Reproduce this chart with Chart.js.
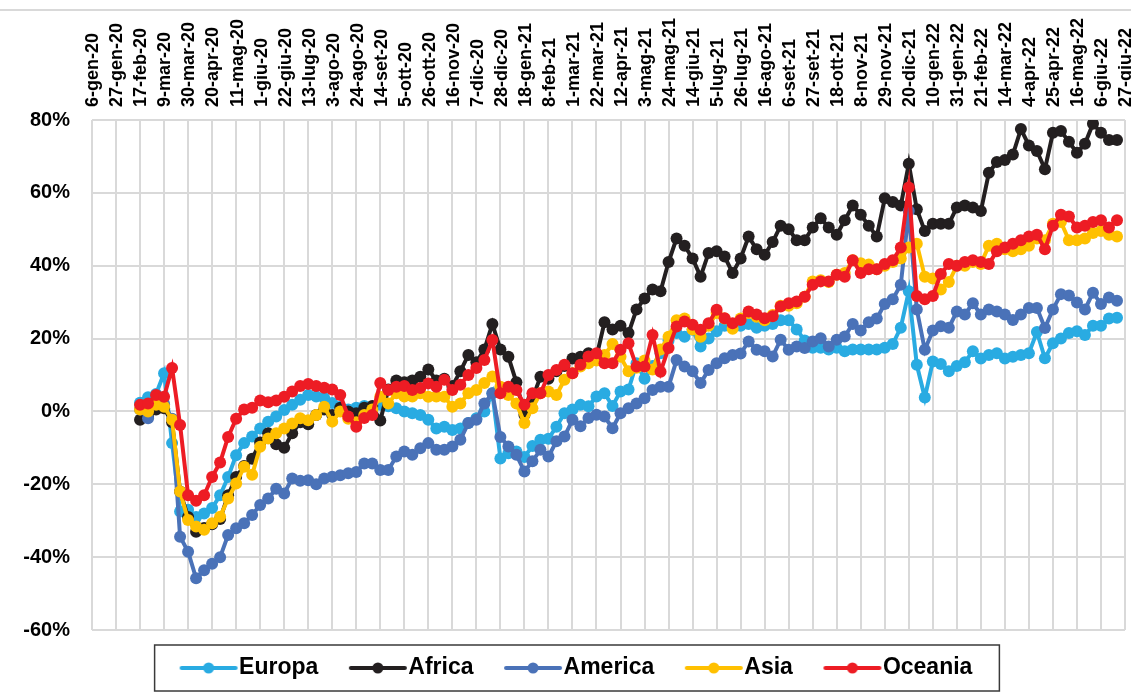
<!DOCTYPE html>
<html><head><meta charset="utf-8">
<script src="https://cdn.jsdelivr.net/npm/chart.js@4.4.0/dist/chart.umd.min.js"></script>
<style>html,body{margin:0;padding:0;background:#fff;}#wrap{width:1131px;height:698px;position:relative;}</style>
</head><body><div id="wrap"><canvas id="c" width="1131" height="698"></canvas></div>
<script>
// Tick labels (every 3 weeks) and weekly categories
const tickLabels = ['6-gen-20','27-gen-20','17-feb-20','9-mar-20','30-mar-20','20-apr-20','11-mag-20','1-giu-20','22-giu-20','13-lug-20','3-ago-20','24-ago-20','14-set-20','5-ott-20','26-ott-20','16-nov-20','7-dic-20','28-dic-20','18-gen-21','8-feb-21','1-mar-21','22-mar-21','12-apr-21','3-mag-21','24-mag-21','14-giu-21','5-lug-21','26-lug-21','16-ago-21','6-set-21','27-set-21','18-ott-21','8-nov-21','29-nov-21','20-dic-21','10-gen-22','31-gen-22','21-feb-22','14-mar-22','4-apr-22','25-apr-22','16-mag-22','6-giu-22','27-giu-22'];
const weeksPerTick = 3;
const totalWeeks = 130;
const firstDataWeek = 6; // 17-feb-20

const seriesNames = ['Europa','Africa','America','Asia','Oceania'];
const seriesColors = ['#29ABE2','#231F20','#4A72B8','#FFC000','#ED1C24'];

const europa = [2.4,3.9,4.8,10.5,-8.7,-27.5,-27,-29,-28,-26.5,
-23,-18,-12,-8.7,-6.9,-4.7,-2.8,-1.4,0.4,1.8,
3.2,4.5,4.1,3.7,2.3,1.3,0.5,1,1.5,1,
1.8,1.4,0.9,0,-0.5,-1,-2.3,-4.7,-4.2,-5.1,
-4.7,-3.2,-1.9,0,5,-12.9,-11.5,-11,-12.5,-9.5,
-7.8,-7.5,-4.2,-0.5,0.5,1.8,1.4,4.1,5,1.5,
5.5,6,13.2,9,12.5,16,19.5,21.5,20.5,22.4,
17.8,20,22,23.5,24,23.5,24,23,23.5,24,
25,25,22.5,19.5,17.5,17.5,17,17.5,16.5,17,
17,17,17,17.5,18.5,23,33,12.8,3.8,13.7,
13,11,12.5,13.5,16.5,14.5,15.5,16,14.5,15,
15.5,16,21.8,14.6,18.7,20,21.5,22,21,23.5,
23.5,25.5,25.7];
const africa = [-2.3,-1.5,0.5,0.9,-3,-22,-29,-33,-32,-31,
-29.5,-23,-18,-15,-13,-8.5,-6,-9,-10,-6,
-3,-3.5,-1,0.5,-1,1,0,-0.5,1,1.5,
-2.5,6,8.5,8,8.5,9.5,11.5,8.5,9,7,
11,15.5,13.5,17,24,17,15,8,-1,3.5,
9.5,9,11,12.5,14.5,15,16,15,24.5,22.5,
23.5,21.5,28,31,33.5,33,41,47.5,45.5,42,
37,43.5,44,42.5,38,42,48,44.5,43,46.5,
51,50,47,47,50.5,53,50.5,48.5,52.5,56.5,
54,51,48,58.5,57.5,56.5,68,55.5,49.5,51.5,
51.5,51.5,56,56.5,56,55,65.5,68.5,69,70.5,
77.5,73,71.5,66.5,76.5,77,74,71,73.5,79,
76.5,74.5,74.5];
const america = [0.5,-1.9,3,2,-2,-34.4,-38.5,-45.8,-43.6,-41.8,
-40,-33.9,-32.1,-30.7,-28.4,-25.7,-23.9,-21.2,-22.5,-18.4,
-19,-18.9,-20,-18.4,-17.9,-17.5,-17,-16.6,-14.3,-14.3,
-16.1,-16.1,-12.4,-11,-11.9,-10.1,-8.7,-10.5,-10.5,-9.6,
-7.8,-3.2,-2.3,2.2,5,-7,-9.6,-11.9,-16.5,-13.7,
-10.5,-12.4,-8.2,-6.9,-2.3,-4.1,-1.8,-0.9,-1.4,-4.6,
-0.5,0.9,2.2,3.6,5.9,6.8,6.8,14.1,12.3,11,
7.8,11.4,13.2,14.6,15.5,15.9,19.2,16.9,16.5,15.1,
19.7,16.9,17.8,17.4,19.2,20.1,17.8,19.7,20.6,24,
22.2,24.5,25.5,29.5,30.8,34.8,55,28,16.9,22.2,
23.4,23,27.4,26.6,29.7,26.6,28,27.4,26.6,25.1,
26.6,28.4,28.4,22.9,28,32.2,31.8,29.9,28,32.6,
29.5,31.3,30.4];
const asia = [0.5,0,1.8,1.3,-2.3,-22,-29.8,-31.6,-32.5,-30.7,
-28.9,-23.9,-19.8,-15.2,-17.4,-9.7,-7.4,-6,-4.7,-3.3,
-1.9,-2.4,-1,1.3,-2.8,0,-2,-3,-1,0.5,
4,2.2,5,4.1,4.1,5,4,4.1,4,1.3,
2.2,5,5.9,7.8,9.6,6.8,4.5,2.2,-3.2,0.9,
5,5.5,4.5,8.7,10.5,12.3,13.2,14,15.5,18.5,
15,11,12,14,11.5,17,20.5,25,25.5,22.5,
20.5,23.5,27,25.5,22.7,25.5,27,26,25,26.5,
29,29,29.7,31.5,35.7,36,35.5,37.5,38,41.5,
40.7,40.3,39,40,41,42,45,46,37,36.5,
33.5,35.5,40,40,41,40.5,45.5,46,44.5,44,
44.5,45.5,47.5,47,51.5,52,47,47,47.5,49,
49.5,48.5,48];
const oceania = [1.8,2.2,4.5,4,11.9,-3.7,-23,-24.5,-23,-18,
-14,-7,-2,0.5,1,3,2.5,3,4,5.5,
7,7.5,7,6.5,6,4.5,-1.4,-4.2,-1.8,-1,
7.8,5.9,6.8,7,5.9,6.4,7.7,6.8,8.7,5.9,
7.3,10,11.9,14.1,19.6,5,6.8,5.9,1.8,5,
5,10,11.4,12.8,10.5,12.8,15.1,16,13.2,13.2,
16.9,18.7,12.3,12.3,21,10.9,17.4,23.3,24.7,23.8,
22.4,24.2,27.9,25.6,24.2,25.1,27.4,26.6,25.6,26.1,
28.8,29.7,30.2,31.5,34.8,35.7,35.7,37.5,37,41.5,
38,39,39,40.5,41.5,45,61.5,31.7,30.8,31.7,
37.7,40.5,40,41,41.5,41,40.5,44,45,46,
47,48,48.5,44.5,51,54,53.5,50.5,51,52,
52.5,50.5,52.5];
const yTicks = {min: -60, max: 80, step: 20};

const seriesValues = [europa, africa, america, asia, oceania];
const categories = [];
for (let w = 0; w < totalWeeks; w++) categories.push(w % weeksPerTick === 0 ? tickLabels[w / weeksPerTick] : '');
function pad(vals){
  const out = new Array(totalWeeks).fill(null);
  vals.forEach((v,k)=>{ out[firstDataWeek + k] = v; });
  return out;
}
function marker(color){
  const c = document.createElement('canvas');
  c.width = 60; c.height = 14;
  const g = c.getContext('2d');
  g.strokeStyle = color; g.lineWidth = 4; g.lineCap = 'round';
  g.beginPath(); g.moveTo(3,7); g.lineTo(57,7); g.stroke();
  g.fillStyle = color; g.beginPath(); g.arc(30,7,5.5,0,Math.PI*2); g.fill();
  return c;
}
const datasets = seriesNames.map((n,i)=>({
  label: n,
  data: pad(seriesValues[i]),
  borderColor: seriesColors[i],
  backgroundColor: seriesColors[i],
  borderWidth: 4,
  pointRadius: 6,
  pointBorderWidth: 0,
  pointBackgroundColor: seriesColors[i],
  pointHoverRadius: 6,
  tension: 0,
  order: seriesNames.length - i
}));

const frame = {
  id: 'frame',
  afterLayout(chart){
    const lg = chart.legend;
    if (lg) { lg.top -= 14; lg.bottom -= 14; lg.left += 8; lg.right += 8; }
  },
  beforeDraw(chart){
    const ctx = chart.ctx;
    ctx.save();
    ctx.strokeStyle = '#d9d9d9'; ctx.lineWidth = 2;
    ctx.beginPath(); ctx.moveTo(0,10); ctx.lineTo(chart.width,10); ctx.stroke();
    ctx.restore();
  },
  afterDraw(chart){
    const lg = chart.legend; const hb = lg.legendHitBoxes;
    if (!hb || !hb.length) return;
    const last = hb[hb.length-1];
    const x0 = hb[0].left - 35, x1 = last.left + last.width + 27;
    const cy = hb[0].top + hb[0].height/2;
    const ctx = chart.ctx;
    ctx.save(); ctx.strokeStyle = '#3a3a3a'; ctx.lineWidth = 1.5;
    ctx.strokeRect(x0, cy - 23, x1 - x0, 46);
    ctx.restore();
  }
};

new Chart(document.getElementById('c'), {
  type: 'line',
  data: {labels: categories, datasets},
  plugins: [frame],
  options: {
    responsive: false, animation: false, devicePixelRatio: 1,
    layout: {padding: {left: 20, right: 5, top: 0, bottom: -5.5}},
    plugins: {
      tooltip: {enabled: false},
      legend: {
        position: 'bottom',
        labels: {
          usePointStyle: true, pointStyleWidth: 38, padding: 40.5, color: '#000',
          font: {family: "'Liberation Sans',Arial,sans-serif", size: 23, weight: 'bold'},
          generateLabels(chart){
            return chart.data.datasets.map((ds,i)=>({text: ds.label, fillStyle: ds.borderColor, strokeStyle: ds.borderColor, lineWidth: 0, pointStyle: marker(ds.borderColor), datasetIndex: i, hidden: false, fontColor: '#000'}));
          }
        }
      }
    },
    scales: {
      x: {
        position: 'top',
        offset: false,
        grid: {color: (c)=> (c.index % weeksPerTick === 0 ? '#d9d9d9' : 'rgba(0,0,0,0)'), lineWidth: 2, drawTicks: false, offset: false},
        border: {display: false},
        ticks: {autoSkip: false, maxRotation: 90, minRotation: 90, padding: 13, labelOffset: 23, color: '#000',
          font: {family: "'Liberation Sans',Arial,sans-serif", size: 18, weight: 'bold'}},
        afterFit(s){ s.height = 120; s.paddingLeft = 0; s.paddingRight = 0; }
      },
      y: {
        min: yTicks.min, max: yTicks.max,
        grid: {color: '#d9d9d9', lineWidth: 2, drawTicks: false},
        border: {display: false},
        ticks: {stepSize: yTicks.step, padding: 22, color: '#000', callback: (v)=> v + '%',
          font: {family: "'Liberation Sans',Arial,sans-serif", size: 20, weight: 'bold'}},
        afterFit(s){ s.width = 72; }
      }
    }
  }
});
</script></body></html>
